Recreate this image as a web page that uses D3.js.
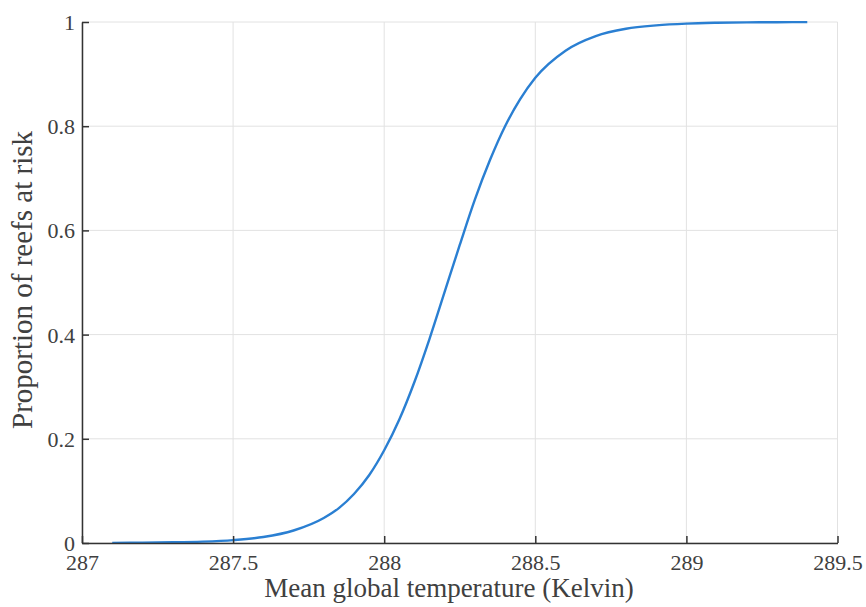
<!DOCTYPE html>
<html>
<head>
<meta charset="utf-8">
<script src="https://cdn.jsdelivr.net/npm/d3@7"></script>
<style>
  body { margin: 0; background: #fff; }
  text { font-family: "Liberation Serif", "DejaVu Serif", serif; fill: #404040; }
</style>
</head>
<body>
<svg width="866" height="607"></svg>
<script>
// temperature (K) and proportion
var temps = [287.1, 287.2, 287.3, 287.4, 287.5, 287.6, 287.7, 287.8, 287.85, 287.9, 287.95,
             288.0, 288.05, 288.1, 288.15, 288.2, 288.25, 288.3, 288.35, 288.4, 288.45,
             288.5, 288.6, 288.7, 288.8, 288.9, 289.0, 289.1, 289.2, 289.3, 289.4];
var risk = [0.0003, 0.0006, 0.0013, 0.0027, 0.0056, 0.0115, 0.024, 0.048, 0.067, 0.094, 0.130,
            0.178, 0.237, 0.309, 0.392, 0.482, 0.572, 0.659, 0.735, 0.800, 0.852,
            0.893, 0.945, 0.973, 0.987, 0.9935, 0.9969, 0.9985, 0.9993, 0.9996, 0.9998];
var xTicks = [287, 287.5, 288, 288.5, 289, 289.5];
var yTicks = [0, 0.2, 0.4, 0.6, 0.8, 1];
var xLabel = "Mean global temperature (Kelvin)";
var yLabel = "Proportion of reefs at risk";

var svg = d3.select("svg");
var pLeft = 82, pRight = 837.5, pTop = 22, pBottom = 543;

var x = d3.scaleLinear().domain([287, 289.5]).range([pLeft, pRight]);
var y = d3.scaleLinear().domain([0, 1]).range([pBottom, pTop]);

// grid
var grid = svg.append("g").attr("stroke", "#e2e2e2").attr("stroke-width", 1);
grid.selectAll("line.v").data(xTicks).enter().append("line")
    .attr("x1", function(d) { return x(d); }).attr("x2", function(d) { return x(d); })
    .attr("y1", pTop).attr("y2", pBottom);
grid.selectAll("line.h").data(yTicks).enter().append("line")
    .attr("y1", function(d) { return y(d); }).attr("y2", function(d) { return y(d); })
    .attr("x1", pLeft).attr("x2", pRight);

// curve
var pts = temps.map(function(t, i) { return [t, risk[i]]; });
var line = d3.line()
    .x(function(d) { return x(d[0]); })
    .y(function(d) { return y(d[1]); })
    .curve(d3.curveMonotoneX);
svg.append("path").datum(pts)
    .attr("d", line)
    .attr("fill", "none")
    .attr("stroke", "#2a7fd2")
    .attr("stroke-width", 2.4);

// axes (inward ticks)
var xAxis = svg.append("g").attr("transform", "translate(0," + pBottom + ")")
    .call(d3.axisBottom(x).tickValues(xTicks).tickSizeInner(-7).tickSizeOuter(0)
        .tickFormat(d3.format("")));
var yAxis = svg.append("g").attr("transform", "translate(" + pLeft + ",0)")
    .call(d3.axisLeft(y).tickValues(yTicks).tickSizeInner(-7).tickSizeOuter(0)
        .tickFormat(d3.format("")));

[xAxis, yAxis].forEach(function(a) {
  a.select(".domain").attr("stroke", "#333").attr("stroke-width", 1.5);
  a.selectAll(".tick line").attr("stroke", "#333").attr("stroke-width", 1.5);
  a.selectAll(".tick text").style("font-family", "Liberation Serif, serif")
    .style("font-size", "22px").attr("fill", "#404040");
});
xAxis.selectAll(".tick text").attr("y", 11).attr("dy", "0.71em");
yAxis.selectAll(".tick text").attr("x", -7).attr("dy", "0.34em");

// labels
svg.append("text")
    .attr("x", 449).attr("y", 597)
    .attr("text-anchor", "middle")
    .style("font-size", "27px")
    .text(xLabel);
svg.append("text")
    .attr("transform", "translate(32,280) rotate(-90)")
    .attr("text-anchor", "middle")
    .style("font-size", "29px")
    .text(yLabel);
</script>
</body>
</html>
